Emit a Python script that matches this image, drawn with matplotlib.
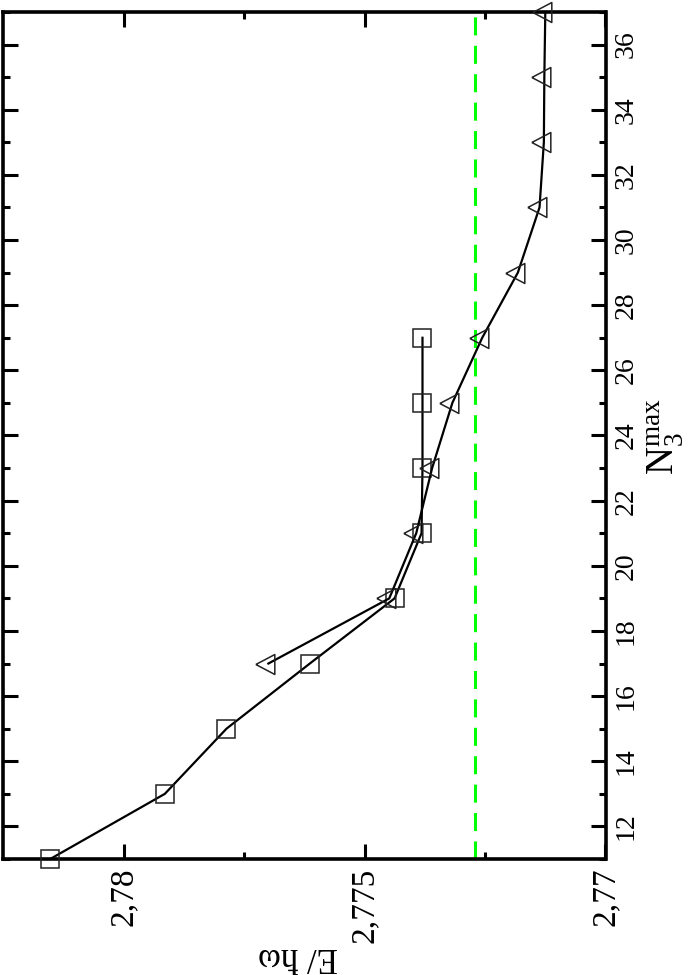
import matplotlib
matplotlib.use('Agg')
import matplotlib.pyplot as plt
from matplotlib.ticker import MultipleLocator, FixedLocator, FuncFormatter

plt.rcParams['font.family'] = ['Liberation Serif', 'DejaVu Serif']
plt.rcParams['mathtext.fontset'] = 'custom'
plt.rcParams['mathtext.rm'] = 'Liberation Serif'
plt.rcParams['mathtext.it'] = 'Liberation Serif:italic'

n_square = [11, 13, 15, 17, 19, 21, 23, 25, 27]
e_square = [2.78153, 2.77915, 2.77787, 2.77614, 2.77438, 2.77382, 2.77380, 2.77380, 2.77380]
n_triangle = [17, 19, 21, 23, 25, 27, 29, 31, 33, 35, 37]
e_triangle = [2.77700, 2.77449, 2.77393, 2.77360, 2.77318, 2.77256, 2.77182, 2.77137, 2.77128, 2.77127, 2.77125]
e_limit = 2.772705

# left-pointing triangle centred on its centroid
tri = [(-12.67, 0), (6.33, 10), (6.33, -10), (-12.67, 0)]

fig = plt.figure(figsize=(6.97, 9.75), dpi=100)
ax = fig.add_axes([3.5 / 697, 116 / 975, 602 / 697, 847 / 975])

# whole chart is drawn turned: energy runs along x, N3 along y
ax.axvline(e_limit, color='#00ff00', lw=2.2, dashes=(5.9, 3.4))
ax.plot(e_square, n_square, color='black', lw=1.6, marker='s', ms=13,
        mfc='none', mec='#222222', mew=1.1, clip_on=False, zorder=3)
ax.plot(e_triangle, n_triangle, color='black', lw=1.6, marker=tri, ms=18.2,
        mfc='none', mec='#222222', mew=1.1, clip_on=False, zorder=3)

ax.set_xlim(2.7825, 2.77)
ax.set_ylim(11, 37)

ax.xaxis.set_major_locator(FixedLocator([2.77, 2.775, 2.78]))
ax.xaxis.set_minor_locator(FixedLocator([2.7725, 2.7775]))
ax.xaxis.set_major_formatter(FuncFormatter(lambda v, p: ('%g' % round(v, 4)).replace('.', ',')))
ax.yaxis.set_major_locator(MultipleLocator(2))
ax.yaxis.set_minor_locator(MultipleLocator(1))

ax.tick_params(which='both', direction='in', top=True, bottom=True, left=True, right=True,
               labelleft=False, labelright=True, width=2.2)
ax.tick_params(which='major', length=11)
ax.tick_params(which='minor', length=5)
ax.tick_params(axis='x', labelsize=24, labelrotation=90, pad=6)
ax.tick_params(axis='y', labelsize=20, labelrotation=90, pad=6)
for lab in ax.get_yticklabels():
    lab.set_va('center')

for s in ax.spines.values():
    s.set_linewidth(2.6)

fig.text(298 / 697, 1 - 957 / 975, 'E/ ħω', rotation=180, fontsize=25,
         ha='center', va='center')
fig.text(665 / 697, 1 - 437 / 975, r'$\mathrm{N}_{3}^{\mathrm{max}}$', rotation=90,
         fontsize=28, ha='center', va='center')

plt.savefig('out.png', dpi=100)
